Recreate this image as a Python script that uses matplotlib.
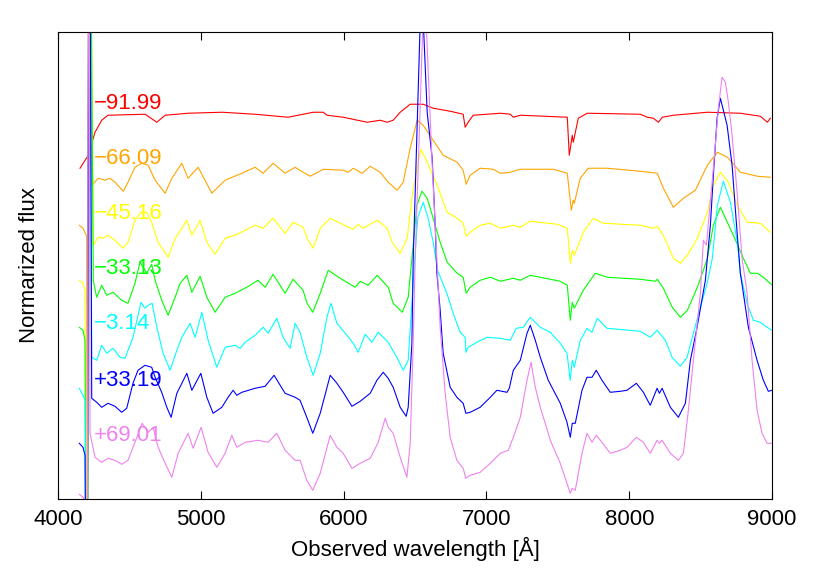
import matplotlib
matplotlib.use("Agg")
import matplotlib.pyplot as plt

plt.rcParams['font.family'] = ['Liberation Sans', 'DejaVu Sans']

# epochs (days) used as labels
epochs = ['\u221291.99', '\u221266.09', '\u221245.16', '\u221233.13', '\u22123.14', '+33.19', '+69.01']
colors = ['red', 'orange', 'yellow', '#00ff00', 'cyan', 'blue', 'violet']
label_flux = [3.96, 3.41, 2.86, 2.31, 1.76, 1.19, 0.64]

# spectra, offset already applied (wavelength in A, normalized flux + offset)
wave_m92 = [4154, 4212, 4259, 4306, 4350, 4610, 4692, 4750, 4911, 5149, 5380, 5611, 5787, 5857, 5885,
            5997, 6165, 6256, 6305, 6347, 6396, 6466, 6557, 6627, 6746, 6837, 6851, 6872, 6907, 7097,
            7167, 7188, 7237, 7566, 7580, 7601, 7608, 7643, 7706, 8077, 8126, 8169, 8204, 8232, 8309,
            8547, 8778, 8918, 8967, 8988]
flux_m92 = [3.31, 3.44, 3.67, 3.79, 3.84, 3.85, 3.77, 3.84, 3.86, 3.87, 3.85, 3.82, 3.87, 3.87, 3.84,
            3.82, 3.77, 3.79, 3.77, 3.79, 3.87, 3.95, 3.95, 3.91, 3.88, 3.85, 3.72, 3.77, 3.84, 3.86,
            3.85, 3.82, 3.84, 3.82, 3.44, 3.64, 3.57, 3.81, 3.86, 3.85, 3.82, 3.81, 3.77, 3.82, 3.84,
            3.87, 3.86, 3.83, 3.77, 3.81]

wave_m66 = [4149, 4175, 4201, 4205, 4218, 4236, 4282, 4329, 4364, 4399, 4457, 4490, 4539, 4586, 4631,
            4680, 4750, 4797, 4867, 4911, 4981, 5077, 5170, 5287, 5380, 5436, 5506, 5590, 5660, 5716,
            5766, 5857, 5997, 6032, 6067, 6130, 6186, 6256, 6312, 6375, 6417, 6466, 6515, 6557, 6627,
            6697, 6795, 6837, 6858, 6886, 6956, 7048, 7097, 7167, 7237, 7468, 7566, 7594, 7608, 7615,
            7657, 7713, 7846, 8077, 8196, 8239, 8309, 8379, 8463, 8547, 8617, 8687, 8778, 8897, 8988]
flux_m66 = [2.74, 2.71, 2.63, -3.0, 8.0, 3.14, 3.21, 3.19, 3.21, 3.17, 3.08, 3.17, 3.32, 3.36, 3.34,
            3.19, 3.06, 3.21, 3.36, 3.21, 3.32, 3.06, 3.19, 3.26, 3.32, 3.26, 3.36, 3.26, 3.32, 3.27,
            3.23, 3.30, 3.29, 3.27, 3.31, 3.26, 3.33, 3.27, 3.17, 3.09, 3.17, 3.51, 3.79, 3.74, 3.59,
            3.44, 3.37, 3.29, 3.15, 3.24, 3.31, 3.30, 3.26, 3.27, 3.30, 3.30, 3.26, 2.89, 2.99, 2.96,
            3.21, 3.31, 3.31, 3.28, 3.26, 3.11, 2.92, 3.01, 3.09, 3.34, 3.47, 3.42, 3.27, 3.23, 3.22]

wave_m45 = [4149, 4175, 4189, 4203, 4216, 4247, 4282, 4315, 4350, 4399, 4455, 4490, 4539, 4581, 4621,
            4656, 4701, 4771, 4820, 4867, 4902, 4937, 4995, 5042, 5100, 5170, 5240, 5310, 5380, 5436,
            5506, 5590, 5646, 5716, 5744, 5787, 5836, 5906, 5976, 6067, 6102, 6137, 6235, 6305, 6340,
            6396, 6445, 6487, 6541, 6585, 6655, 6725, 6795, 6837, 6858, 6886, 6956, 7027, 7097, 7188,
            7237, 7307, 7496, 7566, 7587, 7601, 7615, 7678, 7748, 7818, 8077, 8169, 8196, 8239, 8309,
            8358, 8407, 8477, 8547, 8589, 8638, 8694, 8757, 8827, 8918, 8988]
flux_m45 = [2.19, 2.16, 2.09, -3.0, 8.0, 2.54, 2.62, 2.61, 2.64, 2.59, 2.51, 2.57, 2.79, 2.87, 2.87,
            2.77, 2.57, 2.42, 2.61, 2.71, 2.79, 2.64, 2.79, 2.57, 2.45, 2.61, 2.64, 2.69, 2.74, 2.71,
            2.81, 2.66, 2.77, 2.72, 2.61, 2.51, 2.71, 2.81, 2.76, 2.70, 2.75, 2.71, 2.79, 2.71, 2.57,
            2.46, 2.61, 3.11, 3.50, 3.37, 3.14, 2.87, 2.81, 2.76, 2.63, 2.67, 2.74, 2.76, 2.71, 2.74,
            2.72, 2.78, 2.75, 2.71, 2.36, 2.49, 2.44, 2.67, 2.81, 2.76, 2.74, 2.71, 2.73, 2.64, 2.41,
            2.36, 2.44, 2.61, 2.87, 3.14, 3.27, 3.17, 2.94, 2.77, 2.76, 2.67]

wave_m33 = [4149, 4175, 4189, 4203, 4218, 4247, 4271, 4306, 4341, 4385, 4446, 4490, 4539, 4574, 4621,
            4656, 4680, 4726, 4771, 4820, 4855, 4902, 4937, 4995, 5042, 5100, 5170, 5240, 5322, 5401,
            5450, 5506, 5590, 5646, 5716, 5744, 5784, 5836, 5892, 5976, 6081, 6116, 6172, 6235, 6312,
            6347, 6410, 6452, 6478, 6513, 6548, 6585, 6627, 6676, 6725, 6795, 6837, 6858, 6886, 6956,
            7027, 7097, 7188, 7237, 7307, 7517, 7566, 7587, 7601, 7615, 7678, 7762, 7846, 8077, 8183,
            8196, 8239, 8301, 8358, 8407, 8477, 8519, 8547, 8589, 8638, 8729, 8799, 8848, 8897, 8939,
            9002]
flux_m33 = [1.72, 1.69, 1.59, -3.0, 8.0, 2.19, 2.02, 2.14, 2.04, 2.07, 1.99, 1.96, 2.16, 2.37, 2.26,
            2.35, 2.19, 1.99, 1.84, 2.02, 2.16, 2.24, 2.07, 2.23, 2.02, 1.87, 2.02, 2.06, 2.12, 2.19,
            2.12, 2.25, 2.06, 2.20, 2.09, 1.96, 1.87, 2.06, 2.29, 2.21, 2.12, 2.18, 2.14, 2.24, 2.12,
            1.96, 1.87, 2.02, 2.41, 2.94, 3.08, 3.01, 2.81, 2.57, 2.37, 2.26, 2.22, 2.06, 2.12, 2.19,
            2.22, 2.18, 2.21, 2.19, 2.24, 2.18, 2.14, 1.79, 1.97, 1.91, 2.09, 2.26, 2.22, 2.20, 2.18,
            2.20, 2.11, 1.92, 1.82, 1.89, 2.12, 2.29, 2.41, 2.74, 2.92, 2.64, 2.41, 2.26, 2.26, 2.22,
            2.14]

wave_m3 = [4149, 4175, 4189, 4203, 4218, 4236, 4271, 4306, 4341, 4385, 4434, 4469, 4525, 4581, 4609,
           4631, 4659, 4692, 4736, 4785, 4832, 4867, 4925, 4960, 5007, 5051, 5112, 5170, 5240, 5275,
           5310, 5380, 5436, 5471, 5532, 5576, 5625, 5660, 5695, 5742, 5787, 5836, 5883, 5911, 5953,
           6023, 6067, 6102, 6151, 6198, 6242, 6312, 6373, 6417, 6452, 6475, 6500, 6520, 6557, 6592,
           6627, 6660, 6723, 6767, 6816, 6851, 6856, 6872, 6933, 7003, 7097, 7167, 7209, 7258, 7307,
           7377, 7447, 7517, 7564, 7587, 7601, 7615, 7657, 7704, 7739, 7776, 7844, 8077, 8147, 8195,
           8253, 8300, 8358, 8405, 8449, 8498, 8545, 8582, 8617, 8659, 8708, 8757, 8778, 8825, 8869,
           8918, 8965, 9000]
flux_m3 = [1.11, 1.04, 0.99, -3.0, 8.0, 1.42, 1.39, 1.54, 1.46, 1.51, 1.42, 1.41, 1.62, 1.97, 1.91,
           1.94, 1.96, 1.72, 1.46, 1.29, 1.49, 1.62, 1.76, 1.62, 1.87, 1.59, 1.32, 1.52, 1.54, 1.51,
           1.57, 1.64, 1.72, 1.66, 1.81, 1.62, 1.51, 1.76, 1.67, 1.42, 1.24, 1.46, 1.82, 1.96, 1.76,
           1.64, 1.56, 1.47, 1.65, 1.57, 1.67, 1.57, 1.42, 1.29, 1.39, 1.90, 2.45, 2.82, 2.97, 2.81,
           2.57, 2.28, 2.06, 1.86, 1.67, 1.62, 1.47, 1.52, 1.57, 1.62, 1.61, 1.59, 1.71, 1.72, 1.82,
           1.72, 1.67, 1.56, 1.46, 1.19, 1.39, 1.32, 1.59, 1.71, 1.67, 1.81, 1.71, 1.68, 1.62, 1.69,
           1.59, 1.42, 1.33, 1.42, 1.66, 1.92, 2.16, 2.41, 2.94, 3.18, 2.97, 2.57, 2.26, 1.96, 1.79,
           1.77, 1.72, 1.69]

wave_p33 = [4149, 4175, 4189, 4203, 4218, 4236, 4271, 4306, 4350, 4399, 4446, 4481, 4525, 4560, 4609,
            4656, 4680, 4726, 4762, 4792, 4832, 4867, 4902, 4937, 5000, 5042, 5086, 5147, 5191, 5226,
            5252, 5287, 5380, 5450, 5513, 5590, 5660, 5695, 5742, 5784, 5836, 5906, 5953, 5997, 6058,
            6116, 6186, 6233, 6277, 6312, 6347, 6396, 6438, 6452, 6478, 6487, 6545, 6585, 6620, 6641,
            6653, 6676, 6697, 6746, 6793, 6837, 6856, 6886, 6956, 7027, 7073, 7144, 7160, 7188, 7237,
            7284, 7307, 7342, 7377, 7433, 7517, 7564, 7587, 7601, 7622, 7669, 7704, 7739, 7769, 7809,
            7867, 7937, 7984, 8050, 8099, 8147, 8195, 8211, 8230, 8288, 8344, 8393, 8428, 8475, 8533,
            8568, 8589, 8615, 8638, 8685, 8720, 8755, 8778, 8799, 8834, 8895, 8939, 8974, 9000]
flux_p33 = [0.56, 0.52, 0.44, -3.0, 8.0, 1.01, 0.97, 0.92, 0.96, 0.93, 0.87, 0.91, 1.16, 1.29, 1.34,
            1.32, 1.22, 1.07, 0.92, 0.82, 1.06, 1.16, 1.26, 1.09, 1.26, 1.02, 0.86, 0.92, 1.02, 1.09,
            1.04, 1.07, 1.11, 1.13, 1.24, 1.06, 1.02, 0.99, 0.82, 0.66, 0.86, 1.24, 1.16, 1.07, 0.93,
            0.98, 1.06, 1.19, 1.27, 1.21, 1.12, 0.92, 0.83, 0.92, 1.56, 2.39, 5.20, 3.87, 3.41, 2.74,
            2.26, 1.89, 1.46, 1.12, 1.02, 0.96, 0.86, 0.87, 0.92, 1.02, 1.09, 1.07, 1.11, 1.29, 1.39,
            1.66, 1.74, 1.59, 1.42, 1.19, 0.96, 0.77, 0.62, 0.76, 0.76, 1.09, 1.22, 1.22, 1.29, 1.19,
            1.07, 1.08, 1.09, 1.16, 1.07, 0.94, 1.11, 1.06, 1.11, 0.92, 0.82, 0.96, 1.39, 1.72, 2.19,
            2.74, 3.24, 3.81, 4.01, 3.74, 3.34, 2.67, 2.26, 2.06, 1.72, 1.39, 1.19, 1.08, 1.09]

wave_p69 = [4149, 4175, 4189, 4203, 4215, 4224, 4259, 4306, 4350, 4399, 4446, 4490, 4539, 4589, 4631,
            4666, 4701, 4750, 4797, 4841, 4876, 4911, 4946, 5002, 5051, 5112, 5170, 5217, 5252, 5310,
            5401, 5471, 5532, 5590, 5660, 5695, 5742, 5784, 5836, 5906, 5953, 5997, 6058, 6116, 6186,
            6242, 6291, 6312, 6347, 6396, 6443, 6466, 6487, 6501, 6565, 6618, 6653, 6676, 6711, 6746,
            6793, 6837, 6856, 6886, 6956, 7027, 7097, 7153, 7188, 7237, 7284, 7312, 7342, 7377, 7433,
            7447, 7517, 7564, 7587, 7601, 7622, 7669, 7704, 7739, 7769, 7809, 7867, 7937, 7984, 8050,
            8099, 8147, 8195, 8211, 8230, 8288, 8344, 8379, 8414, 8449, 8498, 8519, 8540, 8589, 8624,
            8650, 8673, 8694, 8720, 8755, 8790, 8825, 8860, 8895, 8930, 8965, 9000]
flux_p69 = [0.05, 0.02, -0.05, -3.0, 8.0, 0.66, 0.42, 0.37, 0.41, 0.39, 0.35, 0.39, 0.57, 0.76, 0.67,
            0.72, 0.52, 0.36, 0.22, 0.46, 0.56, 0.66, 0.51, 0.72, 0.47, 0.32, 0.46, 0.64, 0.52, 0.57,
            0.59, 0.57, 0.66, 0.49, 0.39, 0.39, 0.19, 0.09, 0.26, 0.64, 0.52, 0.46, 0.31, 0.36, 0.41,
            0.57, 0.81, 0.72, 0.66, 0.42, 0.22, 0.56, 1.56, 2.39, 5.20, 3.41, 2.39, 1.72, 1.06, 0.62,
            0.39, 0.31, 0.21, 0.24, 0.27, 0.36, 0.46, 0.49, 0.62, 0.82, 1.19, 1.37, 1.12, 0.92, 0.66,
            0.59, 0.36, 0.16, 0.06, 0.11, 0.09, 0.46, 0.66, 0.57, 0.64, 0.57, 0.46, 0.49, 0.52, 0.62,
            0.57, 0.46, 0.59, 0.56, 0.59, 0.46, 0.39, 0.46, 0.89, 1.39, 2.06, 2.59, 2.54, 3.31, 3.91,
            4.22, 4.17, 3.97, 3.64, 3.07, 2.41, 2.06, 1.39, 0.89, 0.66, 0.56, 0.56]

waves = [wave_m92, wave_m66, wave_m45, wave_m33, wave_m3, wave_p33, wave_p69]
fluxes = [flux_m92, flux_m66, flux_m45, flux_m33, flux_m3, flux_p33, flux_p69]

fig = plt.figure(figsize=(8.3, 5.81), dpi=100)
ax = fig.add_axes([0.0699, 0.1406, 0.8603, 0.8048])

for w, f, c, lab, ly in zip(waves, fluxes, colors, epochs, label_flux):
    ax.plot(w, f, color=c, lw=0.8)
    ax.text(4250, ly, lab, color=c, fontsize=16, va='center', ha='left')

ax.set_xlim(4000, 9000)
ax.set_ylim(0, 4.675)
ax.set_xticks([4000, 5000, 6000, 7000, 8000, 9000])
ax.set_yticks([])
ax.tick_params(axis='x', direction='in', top=True, length=6, labelsize=16, pad=7)
ax.set_xlabel('Observed wavelength [\u00c5]', fontsize=16, labelpad=5)
ax.set_ylabel('Normarized flux', fontsize=16, labelpad=13)

fig.savefig('out.png', dpi=100)
